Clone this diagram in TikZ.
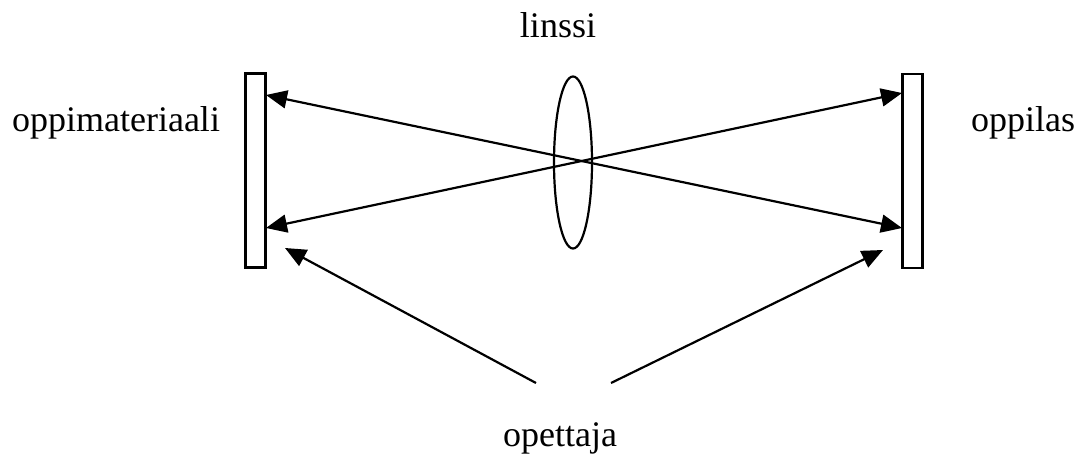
\documentclass[tikz,border=0pt]{standalone}
\usepackage{fontspec}
\setmainfont{Liberation Serif}
\usetikzlibrary{arrows.meta,shapes.geometric}
\begin{document}
\begin{tikzpicture}[x=1pt,y=-1pt,
  bar/.style={draw,line width=2.2pt,fill=white,inner sep=0pt,minimum width=20pt,minimum height=194pt},
  lens/.style={draw,ellipse,line width=2.2pt,inner sep=0pt,minimum width=38pt,minimum height=172pt},
  lbl/.style={font=\fontsize{36}{40}\selectfont,anchor=base,inner sep=0pt},
  ray/.style={line width=2.2pt,{Triangle[length=21pt,width=18pt]}-{Triangle[length=21pt,width=18pt]}},
  look/.style={line width=2.2pt,-{Triangle[length=21pt,width=18pt]}}]
\useasboundingbox (0,0) rectangle (1085,461);
\node[bar] (lbar) at (255.5,170.5) {};
\node[bar] (rbar) at (912.5,171) {};
\node[lens] (linssi) at (573,162.5) {};
\node[lbl] (tl) at (558,37) {linssi};
\node[lbl] (tm) at (116,131) {oppimateriaali};
\node[lbl] (tp) at (1023,131) {oppilas};
\node[lbl] (to) at (560,446) {opettaja};
\coordinate (l1) at (266,95);
\coordinate (l2) at (266,228);
\coordinate (r1) at (902,93);
\coordinate (r2) at (902,228);
\coordinate (sL) at (536,383);
\coordinate (sR) at (611,383);
\coordinate (eL) at (285,248);
\coordinate (eR) at (883,250);
\draw[ray] (l1) -- (r2);
\draw[ray] (l2) -- (r1);
\draw[look] (sL) -- (eL);
\draw[look] (sR) -- (eR);
\end{tikzpicture}
\end{document}
